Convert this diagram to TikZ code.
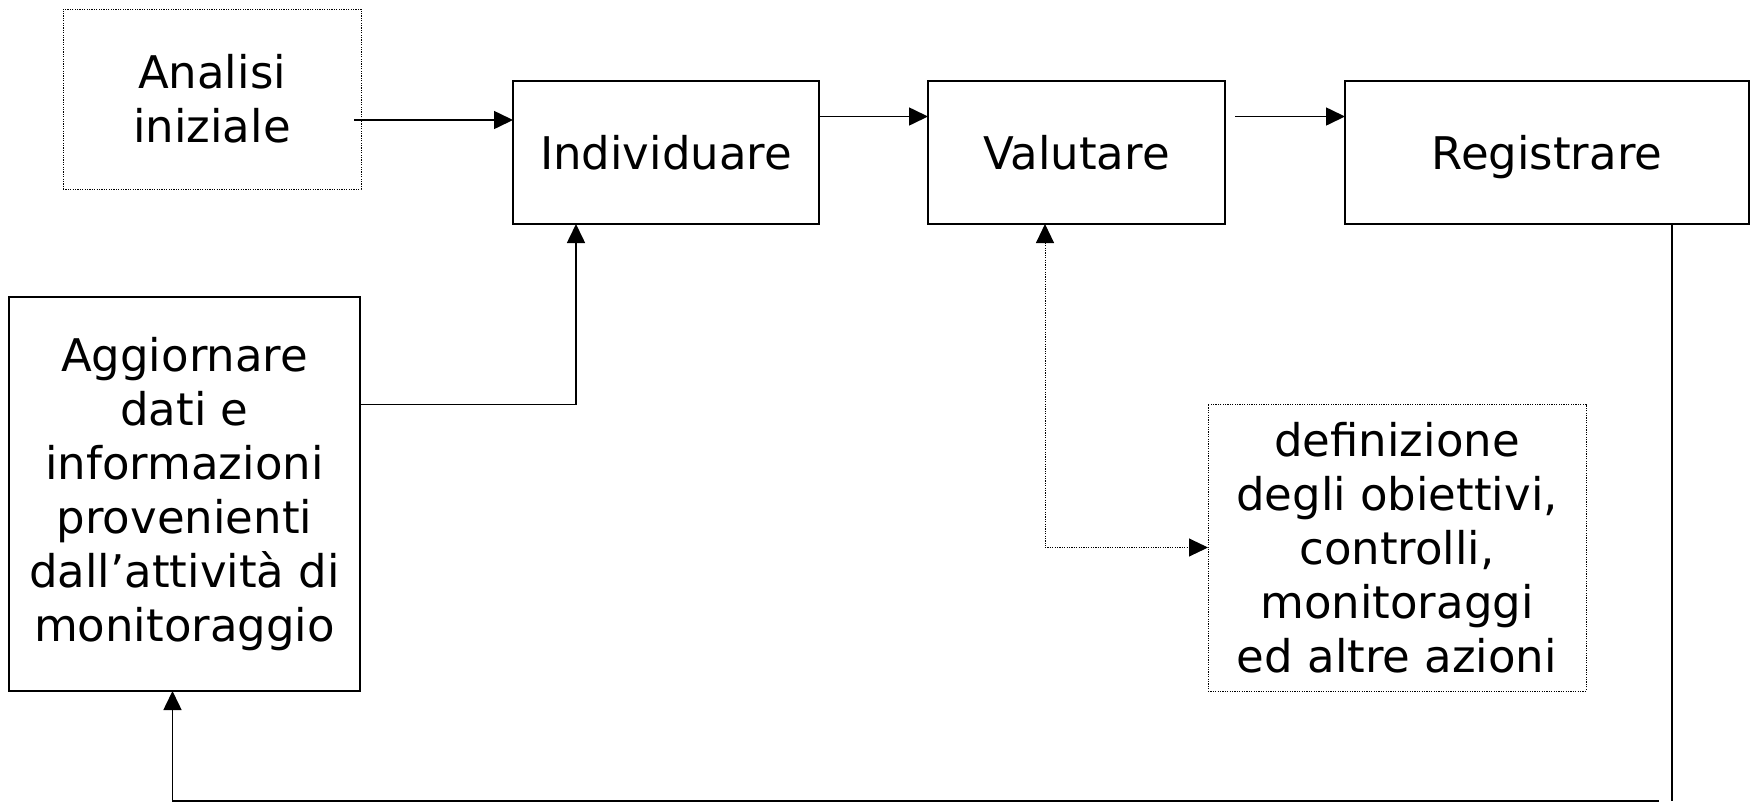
\documentclass[tikz,border=0pt]{standalone}
\usepackage{fontspec}
\setmainfont{DejaVu Sans}
\usetikzlibrary{arrows.meta}

\begin{document}
\begin{tikzpicture}[x=0.5pt, y=-0.5pt, line width=0.8pt,
  box/.style={draw, inner sep=0pt, outer sep=0pt, align=center,
    font=\fontsize{22.5}{27}\selectfont},
  dotbox/.style={box, line width=0.5pt, dash pattern=on 0.6pt off 0.6pt},
  arr/.style={-{Triangle[length=9.5pt, width=9pt]}},
  dotarr/.style={{Triangle[length=9.5pt, width=9pt]}-{Triangle[length=9.5pt, width=9pt]},
    line width=0.5pt, dash pattern=on 0.6pt off 0.6pt}]
\useasboundingbox (0,0) rectangle (1757,804);

%Draw Boxes
\node[dotbox, minimum width=149pt, minimum height=90pt] (Analisi) at (212,99) {Analisi\\iniziale};
\node[box, minimum width=153pt, minimum height=71.5pt] (Individuare) at (666,152.5) {Individuare};
\node[box, minimum width=148.5pt, minimum height=71.5pt] (Valutare) at (1076.5,152.5) {Valutare};
\node[box, minimum width=202pt, minimum height=71.5pt, text depth=0pt] (Registrare) at (1547,152.5) {Registrare};
\node[box, minimum width=175.5pt, minimum height=197pt] (Aggiornare) at (184.5,494)
  {Aggiornare\\dati e\\informazioni\\provenienti\\dall’attività di\\monitoraggio};
\node[dotbox, minimum width=189pt, minimum height=143.5pt] (Obiettivi) at (1397,547.5)
  {definizione\\degli obiettivi,\\controlli,\\monitoraggi\\ed altre azioni};

%Draw Upper Arrows
\draw[arr] ([xshift=-3.5pt,yshift=-10.5pt]Analisi.east) coordinate (a1) -- (a1 -| Individuare.west);
\draw[arr] ([yshift=18pt]Individuare.east) -- ([yshift=18pt]Valutare.west);
\draw[arr] ([xshift=5pt,yshift=18pt]Valutare.east) -- ([yshift=18pt]Registrare.west);

%Draw Feedback Lines
\draw[arr] ([yshift=44.75pt]Aggiornare.east) -| ([xshift=-45pt]Individuare.south);
\coordinate (loopR) at (1672,801);
\coordinate (loopL) at (1659,801);
\draw ([xshift=62.5pt]Registrare.south) -- (loopR);
\draw[arr] (loopL) -| ([xshift=-6pt]Aggiornare.south);

%Draw Dotted Link
\draw[dotarr] ([xshift=-15.75pt]Valutare.south) |- (Obiettivi.west);

\end{tikzpicture}
\end{document}
